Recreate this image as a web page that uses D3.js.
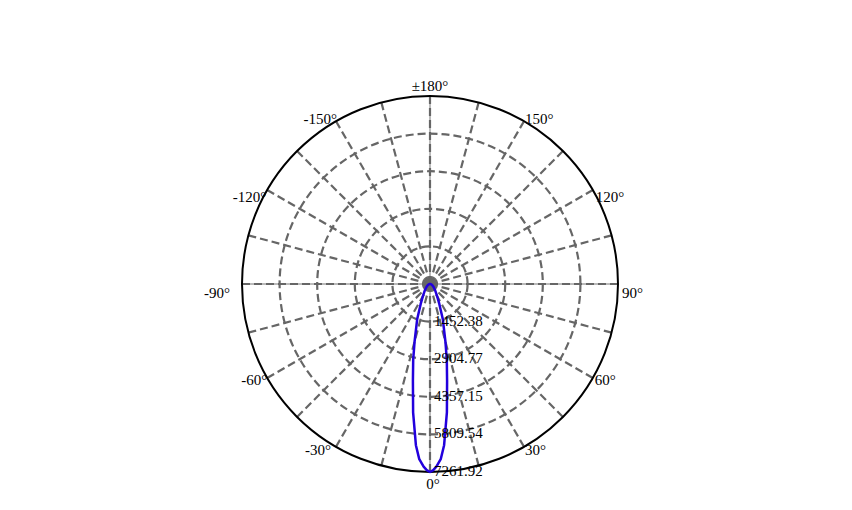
<!DOCTYPE html>
<html>
<head>
<meta charset="utf-8">
<script src="https://cdn.jsdelivr.net/npm/d3@7"></script>
<style>
  body { margin: 0; background: #fff; }
  text { font-family: "Liberation Serif", "Times New Roman", serif; font-size: 15px; fill: #000; }
</style>
</head>
<body>
<svg id="chart" width="852" height="510"></svg>
<script>
var width = 852;
var height = 510;

// ring values (cd) and angle labels
var ringValues = [1452.38, 2904.77, 4357.15, 5809.54, 7261.92];
var spokeAngles = d3.range(-180, 180, 15);
var labelAngles = [0, 30, 60, 90, 120, 150, 180, -150, -120, -90, -60, -30];
var labelText = ["0°", "30°", "60°", "90°", "120°", "150°", "±180°", "-150°", "-120°", "-90°", "-60°", "-30°"];

// intensity curve (angle in degrees, cd)
var curveAngles = [-90, -80, -70, -60, -50, -40, -30, -25, -20, -15, -12.5, -10, -7.5, -5, -3.5, -2, -1,
                   0, 1, 2, 3.5, 5, 7.5, 10, 12.5, 15, 20, 25, 30, 40, 50, 60, 70, 80, 90];
var curveValues = [10, 30, 60, 110, 180, 300, 560, 850, 1450, 2300, 3000, 3800, 5000, 6250, 6780, 7060, 7190,
                   7261.92, 7190, 7060, 6780, 6250, 5000, 3800, 3000, 2300, 1450, 850, 560, 300, 180, 110, 60, 30, 10];

var cx = 430, cy = 284, R = 188;

var svg = d3.select("#chart");
var g = svg.append("g").attr("transform", "translate(" + cx + "," + cy + ")");

var r = d3.scaleLinear().domain([0, 7261.92]).range([0, R]);
// 0° points down, +90° to the right
var ang = function(deg) { return Math.PI - deg * Math.PI / 180; };
var px = function(deg, rad) { return rad * Math.sin(ang(deg)); };
var py = function(deg, rad) { return -rad * Math.cos(ang(deg)); };

// solid cross lines
g.append("line").attr("x1", -R).attr("x2", R).attr("y1", 0).attr("y2", 0)
  .attr("stroke", "#777").attr("stroke-width", 1);
g.append("line").attr("x1", 0).attr("x2", 0).attr("y1", -R).attr("y2", R)
  .attr("stroke", "#777").attr("stroke-width", 1);

// dashed spokes
g.selectAll(".spoke")
  .data(spokeAngles)
  .enter()
  .append("line")
  .attr("class", "spoke")
  .attr("x1", 0).attr("y1", 0)
  .attr("x2", function(d) { return px(d, R); })
  .attr("y2", function(d) { return py(d, R); })
  .attr("stroke", "#666")
  .attr("stroke-width", 2.2)
  .attr("stroke-dasharray", "8,4");

// dashed rings
g.selectAll(".ring")
  .data(ringValues.slice(0, 4))
  .enter()
  .append("circle")
  .attr("class", "ring")
  .attr("r", function(d) { return r(d); })
  .attr("fill", "none")
  .attr("stroke", "#666")
  .attr("stroke-width", 2.2)
  .attr("stroke-dasharray", "8,4");

// outer circle
g.append("circle").attr("r", R).attr("fill", "none")
  .attr("stroke", "#000").attr("stroke-width", 2);

// curve
var line = d3.lineRadial()
  .angle(function(d) { return ang(d[0]); })
  .radius(function(d) { return r(d[1]); })
  .curve(d3.curveLinearClosed);

var pts = curveAngles.map(function(a, i) { return [a, curveValues[i]]; });

g.append("path")
  .attr("d", line(pts))
  .attr("fill", "none")
  .attr("stroke", "#2200dd")
  .attr("stroke-width", 2.5)
  .attr("stroke-linejoin", "round");

// ring labels
g.selectAll(".rlabel")
  .data(ringValues)
  .enter()
  .append("text")
  .attr("class", "rlabel")
  .attr("x", 4)
  .attr("y", function(d) { return r(d) + 4; })
  .text(function(d) { return d.toFixed(2); });

// angle labels
var nudge = { "0": [3, 17], "30": [1, 8], "60": [2, 7], "90": [4, 14], "120": [3, 12], "150": [1, 3],
              "180": [0, -5], "-150": [1, 3], "-120": [-1, 12], "-90": [-12, 14], "-60": [0, 7], "-30": [-5, 8] };
g.selectAll(".alabel")
  .data(labelAngles)
  .enter()
  .append("text")
  .attr("class", "alabel")
  .attr("text-anchor", function(d) {
    var s = Math.round(Math.sin(d * Math.PI / 180) * 1000);
    return s > 0 ? "start" : (s < 0 ? "end" : "middle");
  })
  .attr("x", function(d) { return px(d, R) + nudge[d][0]; })
  .attr("y", function(d) { return py(d, R) + nudge[d][1]; })
  .text(function(d, i) { return labelText[i]; });
</script>
</body>
</html>
